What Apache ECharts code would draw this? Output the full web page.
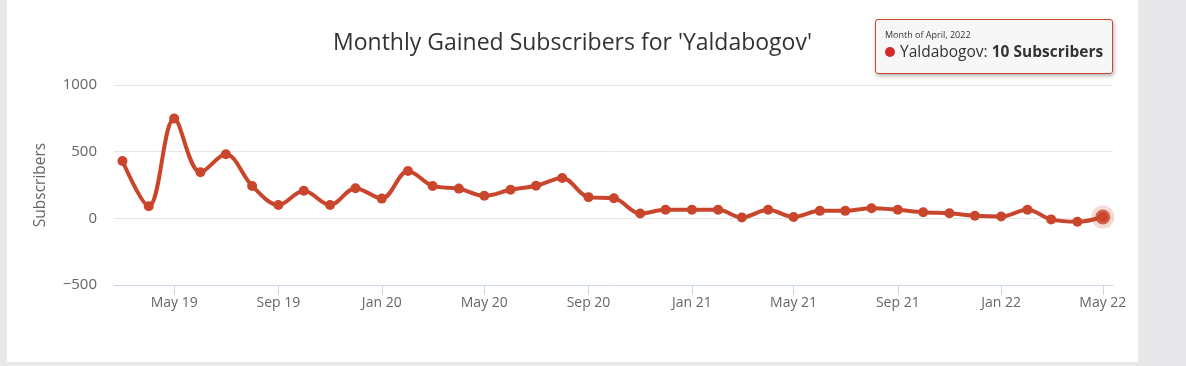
<!DOCTYPE html>
<html>
<head>
<meta charset="utf-8">
<script src="https://cdn.jsdelivr.net/npm/echarts@6/dist/echarts.min.js"></script>
<style>
  html, body { margin: 0; padding: 0; background: #e8e8ea; width: 1186px; height: 366px; overflow: hidden; }
  #chart { position: absolute; left: 7px; top: 0; width: 1131px; height: 362px; background: #ffffff; }
</style>
</head>
<body>
<div id="chart"></div>
<script>
const titleText = "Monthly Gained Subscribers for 'Yaldabogov'";
const seriesName = 'Yaldabogov';
const yAxisName = 'Subscribers';
const months = [
  '2019-03','2019-04','2019-05','2019-06','2019-07','2019-08','2019-09','2019-10','2019-11','2019-12',
  '2020-01','2020-02','2020-03','2020-04','2020-05','2020-06','2020-07','2020-08','2020-09','2020-10','2020-11','2020-12',
  '2021-01','2021-02','2021-03','2021-04','2021-05','2021-06','2021-07','2021-08','2021-09','2021-10','2021-11','2021-12',
  '2022-01','2022-02','2022-03','2022-04','2022-05'
];
const subscribers = [
  430, 91, 748, 345, 480, 243, 100, 207, 100, 226,
  148, 355, 243, 223, 169, 214, 244, 303, 159, 151, 36, 64,
  64, 64, 6, 64, 10, 56, 56, 76, 64, 46, 38, 20,
  14, 64, -8, -26, 10
];
const xTickMonths = ['2019-05','2019-09','2020-01','2020-05','2020-09','2021-01','2021-05','2021-09','2022-01','2022-05'];
const yTicks = [-500, 0, 500, 1000];
const tooltipHeader = 'Month of April, 2022';
const tooltipValue = '10 Subscribers';

const monthNames = ['Jan','Feb','Mar','Apr','May','Jun','Jul','Aug','Sep','Oct','Nov','Dec'];
function ts(m) { const [y, mo] = m.split('-').map(Number); return Date.UTC(y, mo - 1, 1); }
const data = months.map((m, i) => [ts(m), subscribers[i]]);
const lastPoint = [data[data.length - 1]];
const xTicks = xTickMonths.map(ts);
const DAY = 86400000;

const color = '#c9452c';
const font = '"Open Sans", "Noto Sans", sans-serif';

const chart = echarts.init(document.getElementById('chart'), null, { renderer: 'canvas' });
chart.setOption({
  animation: false,
  title: {
    text: titleText, left: 'center', top: 27,
    textStyle: { fontFamily: font, fontSize: 23, fontWeight: 'normal', color: '#333333' }
  },
  grid: { left: 107, right: 25, top: 85, bottom: 77, containLabel: false },
  xAxis: {
    type: 'value',
    min: ts(months[0]) - 10 * DAY,
    max: ts(months[months.length - 1]) + 12 * DAY,
    axisLine: { show: true, onZero: false, lineStyle: { color: '#ccd6eb', width: 1 } },
    axisTick: { show: true, customValues: xTicks, length: 10, lineStyle: { color: '#ccd6eb' } },
    axisLabel: {
      customValues: xTicks, margin: 11, color: '#666666', fontFamily: font, fontSize: 14,
      formatter: v => { const d = new Date(v); return monthNames[d.getUTCMonth()] + ' ' + String(d.getUTCFullYear()).slice(2); }
    },
    splitLine: { show: false }
  },
  yAxis: {
    type: 'value', min: yTicks[0], max: yTicks[yTicks.length - 1], interval: 500,
    name: yAxisName, nameLocation: 'middle', nameGap: 65, nameRotate: 90,
    nameTextStyle: { color: '#666666', fontFamily: font, fontSize: 15.5 },
    axisLine: { show: false }, axisTick: { show: false },
    axisLabel: { margin: 17, color: '#666666', fontFamily: font, fontSize: 15,
      formatter: v => v < 0 ? '\u2212' + Math.abs(v) : String(v) },
    splitLine: { show: true, lineStyle: { color: '#e6e6e6', width: 1 } }
  },
  tooltip: {
    trigger: 'item', triggerOn: 'none', alwaysShowContent: true,
    position: [868, 19],
    backgroundColor: 'rgba(247,247,247,0.95)',
    borderColor: color, borderWidth: 1, borderRadius: 3,
    padding: [9, 9, 11, 9],
    extraCssText: 'box-shadow: 1px 2px 4px rgba(0,0,0,0.3);',
    formatter: () =>
      '<div style="font-family:' + font.replace(/"/g, "'") + ';color:#333;line-height:1.25">' +
      '<div style="font-size:9px;margin-bottom:2px">' + tooltipHeader + '</div>' +
      '<div style="font-size:15.5px"><span style="display:inline-block;width:10px;height:10px;border-radius:50%;background:#d12b2b;margin-right:5px;vertical-align:0px"></span>' +
      seriesName + ': <b>' + tooltipValue + '</b></div></div>'
  },
  series: [{
    name: seriesName,
    type: 'line',
    data: data,
    smooth: 0.35,
    symbol: 'circle',
    symbolSize: 10,
    showAllSymbol: true,
    lineStyle: { color: color, width: 4 },
    itemStyle: { color: color },
    emphasis: { disabled: true },
    z: 2
  }, {
    name: 'halo',
    type: 'scatter',
    data: lastPoint,
    symbol: 'circle',
    symbolSize: 23,
    itemStyle: { color: 'rgba(201,69,44,0.25)' },
    silent: true,
    tooltip: { show: false },
    z: 1
  }, {
    name: 'hover',
    type: 'scatter',
    data: lastPoint,
    symbol: 'circle',
    symbolSize: 15,
    itemStyle: { color: color },
    silent: true,
    tooltip: { show: false },
    z: 3
  }]
});
chart.dispatchAction({ type: 'showTip', seriesIndex: 0, dataIndex: data.length - 1 });
</script>
</body>
</html>
